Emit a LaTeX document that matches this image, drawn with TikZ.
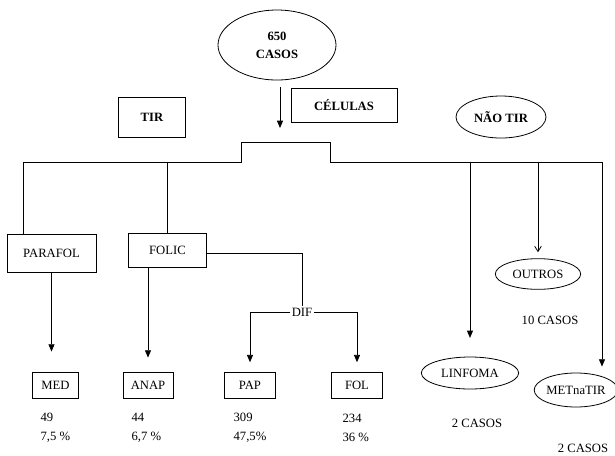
\documentclass[tikz,border=0pt]{standalone}
\usepackage{fontspec}
\setmainfont{Liberation Serif}
\usepackage{tikz}
\usetikzlibrary{shapes.geometric, arrows.meta, positioning, calc}
\tikzset{
  box/.style={rectangle, draw, line width=0.6pt, font=\fontsize{9.5}{11}\selectfont,
    align=center, inner sep=1pt},
  bbox/.style={box, font=\fontsize{9.5}{11}\selectfont\bfseries},
  oval/.style={ellipse, draw, line width=0.6pt, font=\fontsize{9.5}{11}\selectfont,
    align=center, inner sep=0pt},
  boval/.style={oval, font=\fontsize{9.5}{11}\selectfont\bfseries},
  lbl/.style={font=\fontsize{9.5}{11}\selectfont, inner sep=1pt},
  num/.style={lbl, align=left, anchor=west, font=\fontsize{9.5}{14}\selectfont},
  link/.style={line width=0.6pt},
  arr/.style={link, -{Triangle[length=5.5pt, width=4.5pt]}},
  openarr/.style={link, -{Straight Barb[length=4pt, width=5pt]}},
}
\begin{document}
\begin{tikzpicture}[x=0.75pt, y=-0.75pt]
\useasboundingbox (0,0) rectangle (615,455);
% topo
\node[boval, minimum width=88.5pt, minimum height=52.5pt,
  font=\fontsize{9.5}{13.5}\selectfont\bfseries] (casos) at (277,45) {650\\CASOS};
\node[bbox, minimum width=50pt, minimum height=30pt] (tir) at (152,117) {TIR};
\node[bbox, minimum width=79.5pt, minimum height=26pt] (celulas) at (344,105.5) {CÉLULAS};
\node[boval, minimum width=67.5pt, minimum height=31.5pt] (naotir) at (501,117) {NÃO TIR};
% ramos
\node[box, minimum width=66.75pt, minimum height=28.5pt] (parafol) at (51.5,253) {PARAFOL};
\node[box, minimum width=59pt, minimum height=25pt] (folic) at (167.5,250.5) {FOLIC};
\node[lbl] (dif) at (302,312) {DIF};
\node[oval, minimum width=64pt, minimum height=23pt] (outros) at (538,274) {OUTROS};
\node[lbl] (outrosn) at (550,320) {10 CASOS};
\node[oval, minimum width=73pt, minimum height=24pt] (linfoma) at (470,373) {LINFOMA};
\node[lbl] (linfoman) at (477,423) {2 CASOS};
\node[oval, minimum width=57pt, minimum height=25.5pt] (metnatir) at (576,390) {METnaTIR};
\node[lbl] (metnatirn) at (583,448) {2 CASOS};
% folhas
\node[box, minimum width=34pt, minimum height=19.5pt] (med) at (55.5,385) {MED};
\node[box, minimum width=37.5pt, minimum height=19.5pt] (anap) at (148,385) {ANAP};
\node[box, minimum width=38pt, minimum height=19.5pt] (pap) at (250,385) {PAP};
\node[box, minimum width=38pt, minimum height=19.5pt] (fol) at (357,385) {FOL};
\node[num] (n49) at (39,428) {49\\7,5 \%};
\node[num] (n44) at (130,428) {44\\6,7 \%};
\node[num] (n309) at (232,428) {309\\47,5\%};
\node[num] (n234) at (341,428) {234\\36 \%};
% barramento
\coordinate (busL) at (23,162);
\coordinate (stepA) at (241,162);
\coordinate (stepB) at (241,142);
\coordinate (stepC) at (330,142);
\coordinate (stepD) at (330,162);
\coordinate (busR) at (602,162);
\coordinate (entry) at (280,128);
\draw[arr, shorten <=5pt] (casos.south -| entry) -- (entry);
\draw[link] (busL |- parafol.north) -- (busL) -- (stepA) -- (stepB) -- (stepC) -- (stepD) -- (busR);
\draw[link] (folic.north |- busL) -- (folic.north);
\draw[arr, shorten >=14pt] (linfoma.north |- busR) -- (linfoma.north);
\draw[openarr, shorten >=4.5pt] (outros.north |- busR) -- (outros.north);
\draw[arr, shorten >=4.5pt] (busR) -- (busR |- metnatir.north);
% folhas
\draw[arr, shorten >=15pt] (parafol.south) -- (parafol.south |- med.north);
\draw[arr, shorten >=10.5pt] (anap.north |- folic.south) -- (anap.north);
\draw[link] ([yshift=-2.5pt]folic.east) -- ([yshift=-2.5pt]folic.east -| dif) -- (dif.north);
\draw[arr, shorten >=7pt] (dif.west) -- (dif.west -| pap) -- (pap.north);
\draw[arr, shorten >=7pt] (dif.east) -- (dif.east -| fol) -- (fol.north);
\end{tikzpicture}
\end{document}
